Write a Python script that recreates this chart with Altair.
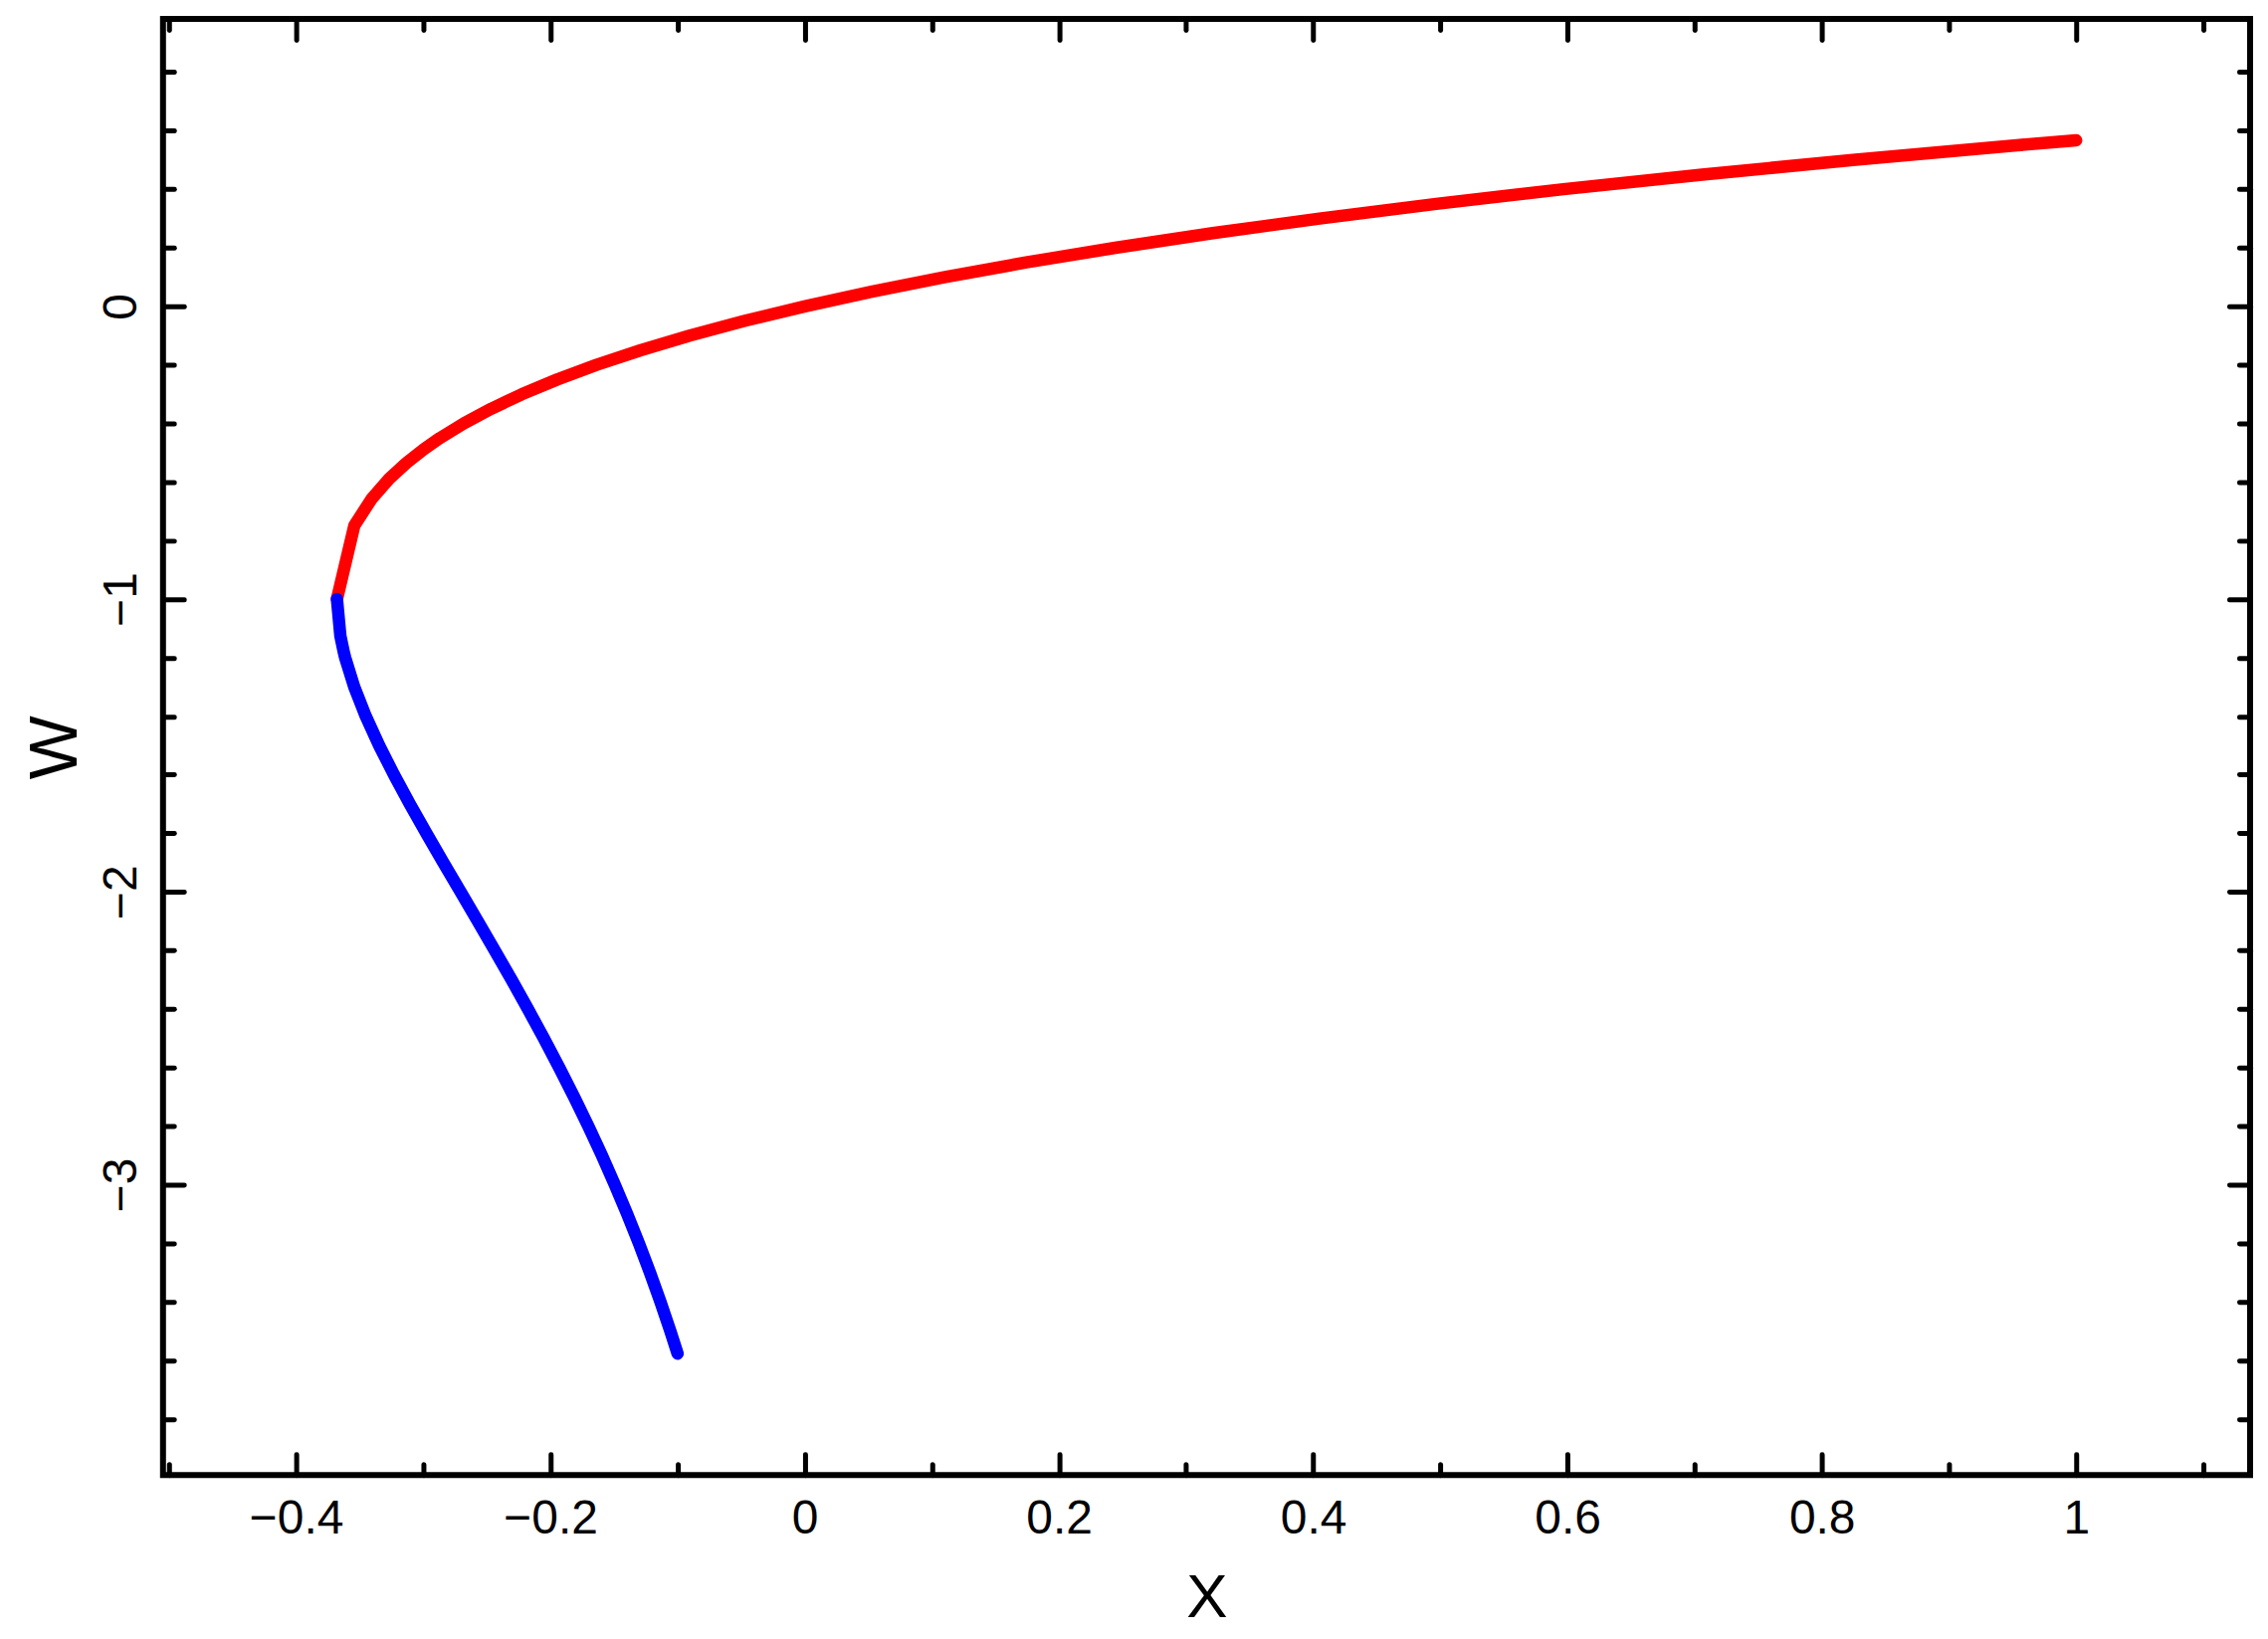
import altair as alt
import pandas as pd

# Principal branch (red) and lower branch (blue)
red_x = [-0.36788, -0.35420, -0.34052, -0.32684, -0.31316, -0.29948, -0.28693,
         -0.26813, -0.24664, -0.22225, -0.19470, -0.16375, -0.12911, -0.09048,
         -0.04756, 0.0, 0.05256, 0.11052, 0.17427, 0.24428, 0.32101, 0.40496,
         0.49667, 0.59673, 0.70574, 0.82436, 0.95329, 1.0]
red_w = [-1.0, -0.749, -0.6567, -0.589, -0.5344, -0.4877, -0.45,
         -0.40, -0.35, -0.30, -0.25, -0.20, -0.15, -0.10,
         -0.05, 0.0, 0.05, 0.10, 0.15, 0.20, 0.25, 0.30,
         0.35, 0.40, 0.45, 0.50, 0.55, 0.5671]

blue_x = [-0.36788, -0.36520, -0.36252, -0.36143, -0.35429, -0.34524, -0.33470,
          -0.32304, -0.31056, -0.29754, -0.28418, -0.27067, -0.25716, -0.24377,
          -0.23060, -0.21772, -0.20521, -0.19311, -0.18146, -0.17026, -0.15957,
          -0.14936, -0.13965, -0.13044, -0.12171, -0.11347, -0.10569, -0.1]
blue_w = [-1.0, -1.1258, -1.1812, -1.2, -1.3, -1.4, -1.5,
          -1.6, -1.7, -1.8, -1.9, -2.0, -2.1, -2.2,
          -2.3, -2.4, -2.5, -2.6, -2.7, -2.8, -2.9,
          -3.0, -3.1, -3.2, -3.3, -3.4, -3.5, -3.5772]

x_major = [-0.4, -0.2, 0, 0.2, 0.4, 0.6, 0.8, 1]
x_minor = [-0.5, -0.3, -0.1, 0.1, 0.3, 0.5, 0.7, 0.9, 1.1]
y_major = [-3, -2, -1, 0]
y_minor = [-3.8, -3.6, -3.4, -3.2, -2.8, -2.6, -2.4, -2.2, -1.8, -1.6, -1.4, -1.2,
           -0.8, -0.6, -0.4, -0.2, 0.2, 0.4, 0.6, 0.8]

red_df = pd.DataFrame({"x": red_x, "w": red_w})
blue_df = pd.DataFrame({"x": blue_x, "w": blue_w})

W, H = 2100, 1465
FONT = "Liberation Sans"
xs = alt.Scale(domain=[-0.5047, 1.1368], nice=False, zero=False)
ys = alt.Scale(domain=[-3.9916, 0.9815], nice=False, zero=False)


def tick_axis(orient, values, size, offset):
    return alt.Axis(orient=orient, values=values, tickSize=size, offset=offset,
                    labels=False, domain=False, grid=False, title="",
                    tickColor="black", tickWidth=5, tickCap="round")


def tick_layer(xo, yo, xv, yv, size):
    return alt.Chart(red_df).mark_line(opacity=0).encode(
        x=alt.X("x:Q", scale=xs, axis=tick_axis(xo, xv, size, -H)),
        y=alt.Y("w:Q", scale=ys, axis=tick_axis(yo, yv, size, -W)),
    )


layers = [
    tick_layer("top", "right", x_major, y_major, 21),
    tick_layer("top", "right", x_minor, y_minor, 11),
    tick_layer("bottom", "left", x_major, y_major, 21),
    tick_layer("bottom", "left", x_minor, y_minor, 11),
]

x_axis = alt.Axis(orient="bottom", values=x_major, format="~g", ticks=False, tickSize=0,
                  domain=False, grid=False, labelFont=FONT, labelFontSize=48,
                  labelPadding=20, labelColor="black", labelFlush=False,
                  labelOverlap=False, title="X", titleFont=FONT, titleFontSize=62,
                  titleFontWeight="normal", titlePadding=26, titleColor="black")
y_axis = alt.Axis(orient="left", values=y_major, format="~g", ticks=False, tickSize=0,
                  domain=False, grid=False, labelFont=FONT, labelFontSize=48,
                  labelAngle=270, labelAlign="center", labelBaseline="alphabetic",
                  labelPadding=27, labelColor="black", labelFlush=False,
                  labelOverlap=False, title="W", titleFont=FONT, titleFontSize=68,
                  titleFontWeight="normal", titlePadding=8, titleColor="black")

red = alt.Chart(red_df).mark_line(color="#ff0000", strokeWidth=12.5, strokeCap="round",
                                  strokeJoin="round").encode(
    x=alt.X("x:Q", scale=xs, axis=x_axis),
    y=alt.Y("w:Q", scale=ys, axis=y_axis),
    order=alt.Order("x:Q"),
)
blue = alt.Chart(blue_df).mark_line(color="#0000ff", strokeWidth=12.5, strokeCap="round",
                                    strokeJoin="round").encode(
    x=alt.X("x:Q", scale=xs, axis=None),
    y=alt.Y("w:Q", scale=ys, axis=None),
)

chart = alt.layer(*layers, red, blue).resolve_axis(
    x="independent", y="independent"
).properties(
    width=W, height=H,
    autosize=alt.AutoSizeParams(type="none"),
    padding={"left": 156, "top": 10, "right": 10, "bottom": 162},
    background="white",
).configure_view(stroke="black", strokeWidth=6)

chart.save("out.html", embed_options={"renderer": "svg", "actions": False})
